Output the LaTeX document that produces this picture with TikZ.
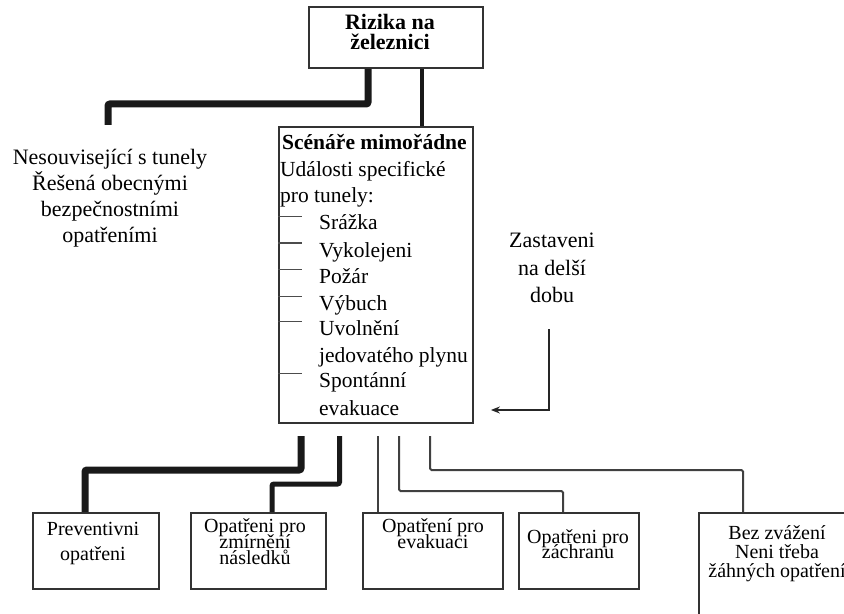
\documentclass[tikz,border=0pt]{standalone}
\usepackage{fontspec}
\setmainfont{Liberation Serif}
\usetikzlibrary{arrows.meta}
\begin{document}
\begin{tikzpicture}[x=1bp,y=-1bp,
  boxshape/.style={draw=black!80, line width=1.8bp, fill=none, inner sep=0pt, rectangle},
  txt/.style={font=\fontsize{22bp}{26bp}\selectfont, inner sep=0pt, anchor=base},
  stxt/.style={font=\fontsize{21.5bp}{26bp}\selectfont, inner sep=0pt, anchor=base west},
  btxt/.style={font=\fontsize{20bp}{20bp}\selectfont, inner sep=0pt, anchor=base},
  heavy/.style={draw=black!90, line width=7bp, rounded corners=2bp},
  medium/.style={draw=black!90, line width=5bp, rounded corners=2bp},
  light/.style={draw=black!75, line width=2bp, rounded corners=1.5bp},
  itemdash/.style={draw=black!70, line width=1.2bp},
  pointer/.style={draw=black!85, line width=2.6bp, -{Stealth[length=9bp,width=7bp]}}]
\useasboundingbox (0,0) rectangle (844,614);
\clip (0,0) rectangle (844,614);
% boxes
\node[boxshape, minimum width=174bp, minimum height=61bp] (top) at (396,37.5) {};
\node[boxshape, minimum width=194bp, minimum height=296bp] (scen) at (376,275) {};
\node[boxshape, minimum width=126bp, minimum height=76bp] (b1) at (96,551) {};
\node[boxshape, minimum width=135bp, minimum height=76bp] (b2) at (258.5,551) {};
\node[boxshape, minimum width=140bp, minimum height=76bp] (b3) at (433,551) {};
\node[boxshape, minimum width=120bp, minimum height=76bp] (b4) at (579,551) {};
\node[boxshape, minimum width=201bp, minimum height=187bp] (b5) at (799.5,606.5) {};
% top text
\node[txt, font=\bfseries\fontsize{22bp}{20bp}\selectfont] (t1) at (390,30) {Rizika na};
\node[txt, font=\bfseries\fontsize{22bp}{20bp}\selectfont] (t2) at (390,50) {železnici};
% left text
\node[txt] (l1) at (110,165) {Nesouvisející s tunely};
\node[txt] (l2) at (110,191) {Řešená obecnými};
\node[txt] (l3) at (110,217) {bezpečnostními};
\node[txt] (l4) at (110,243) {opatřeními};
% scenario text
\node[stxt, font=\bfseries\fontsize{21.5bp}{26bp}\selectfont] (s0) at (282,150) {Scénáře mimořádne};
\node[stxt] (s1) at (280,177) {Události specifické};
\node[stxt] (s2) at (280,203) {pro tunely:};
\node[stxt] (i1) at (319,230) {Srážka};
\node[stxt] (i2) at (319,257) {Vykolejeni};
\node[stxt] (i3) at (319,283) {Požár};
\node[stxt] (i4) at (319,310) {Výbuch};
\node[stxt] (i5) at (319,335) {Uvolnění};
\node[stxt] (i6) at (319,362) {jedovatého plynu};
\node[stxt] (i7) at (319,387) {Spontánní};
\node[stxt] (i8) at (319,415) {evakuace};
\foreach \y in {216.5,243,269.5,296.5,321.5,373.5}
  \draw[itemdash] (scen.west |- 0,\y) -- (302,\y);
% right text
\node[txt] (z1) at (552,248) {Zastaveni};
\node[txt] (z2) at (552,275) {na delší};
\node[txt] (z3) at (552,302) {dobu};
% bottom texts
\node[btxt] (p1) at (93,535) {Preventivni};
\node[btxt] (p2) at (93,560) {opatřeni};
\node[btxt] (q1) at (255,532) {Opatřeni pro};
\node[btxt] (q2) at (255,548) {zmírnění};
\node[btxt] (q3) at (255,564) {následků};
\node[btxt] (r1) at (433,532) {Opatření pro};
\node[btxt] (r2) at (433,548) {evakuaci};
\node[btxt] (u1) at (578,543) {Opatřeni pro};
\node[btxt] (u2) at (578,558) {záchranu};
\node[btxt] (v1) at (777,539) {Bez zvážení};
\node[btxt] (v2) at (777,558) {Neni třeba};
\node[btxt] (v3) at (777,577) {žáhných opatření};
% connectors from top
\coordinate (leftend) at (108,125);
\draw[heavy] (top.south -| 368,0) |- (leftend |- 0,104) -- (leftend);
\draw[draw=black!90, line width=4bp] (top.south -| 422,0) -- (scen.north -| 422,0);
% bottom connectors
\coordinate (s1c) at (301,436);
\coordinate (s2c) at (339.5,436);
\coordinate (s3c) at (378,436);
\coordinate (s4c) at (399,436);
\coordinate (s5c) at (430,436);
\draw[heavy] (s1c) |- (85,470) -- (b1.north -| 85,0);
\draw[medium] (s2c) |- (272,484) -- (b2.north -| 272,0);
\draw[light] (s3c) -- (b3.north -| s3c);
\draw[light] (s4c) |- (563,491) -- (b4.north -| 563,0);
\draw[light] (s5c) |- (743,470) -- (b5.north -| 743,0);
% arrow
\coordinate (a0) at (549,329);
\draw[pointer, shorten >=17bp] (a0) |- (scen.east |- 0,410);
\end{tikzpicture}
\end{document}
